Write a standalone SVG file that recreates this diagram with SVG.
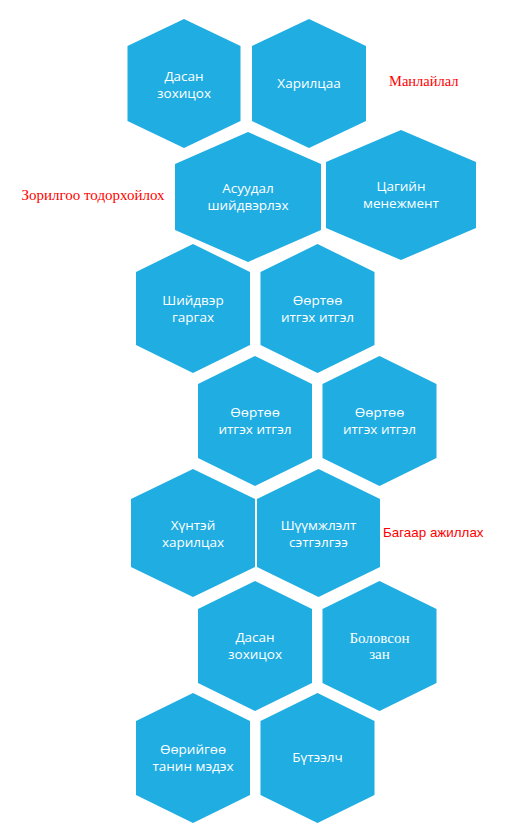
<svg xmlns="http://www.w3.org/2000/svg" width="526" height="837" viewBox="0 0 526 837">
<style>
.hex{fill:#1FADE2;}
.t{font-family:"Open Sans","Noto Sans",sans-serif;font-size:13.5px;fill:#FFFFFF;text-anchor:middle;}
.ts{font-family:"Liberation Serif","Times New Roman",serif;font-size:15px;fill:#FFFFFF;text-anchor:middle;}
.rs{font-family:"Liberation Serif","Times New Roman",serif;font-size:14.5px;fill:#FF0000;}
.ra{font-family:"Liberation Sans",Arial,sans-serif;font-size:13.4px;fill:#FF0000;}
</style>
<rect width="526" height="837" fill="#FFFFFF"/>
<g id="n1"><polygon class="hex" points="184,19 240.5,46 240.5,121 184,148 127.5,121 127.5,46"/><text class="t" x="184" y="80.5">Дасан</text><text class="t" x="184" y="97.5">зохицох</text></g>
<g id="n2"><polygon class="hex" points="309,19 366,46 366,121 309,148 252,121 252,46"/><text class="t" x="309" y="87.5">Харилцаа</text></g>
<g id="n3"><polygon class="hex" points="248,132 321,164 321,230 248,262 175,230 175,164"/><text class="t" x="248" y="193">Асуудал</text><text class="t" x="248" y="210">шийдвэрлэх</text></g>
<g id="n4"><polygon class="hex" points="401,130 476,162 476,228 401,260 326,228 326,162"/><text class="t" x="401" y="191">Цагийн</text><text class="t" x="401" y="208">менежмент</text></g>
<g id="n5"><polygon class="hex" points="193,244 250,272 250,345 193,373 136,345 136,272"/><text class="t" x="193" y="305">Шийдвэр</text><text class="t" x="193" y="322">гаргах</text></g>
<g id="n6"><polygon class="hex" points="317.5,244 374.5,272 374.5,345 317.5,373 260.5,345 260.5,272"/><text class="t" x="317.5" y="305">Өөртөө</text><text class="t" x="317.5" y="322">итгэх итгэл</text></g>
<g id="n7"><polygon class="hex" points="255,356 312,384 312,458 255,486 198,458 198,384"/><text class="t" x="255" y="417">Өөртөө</text><text class="t" x="255" y="434">итгэх итгэл</text></g>
<g id="n8"><polygon class="hex" points="379.5,356 436.5,384 436.5,458 379.5,486 322.5,458 322.5,384"/><text class="t" x="379.5" y="417">Өөртөө</text><text class="t" x="379.5" y="434">итгэх итгэл</text></g>
<g id="n9"><polygon class="hex" points="193,469 255,499 255,567 193,597 131,567 131,499"/><text class="t" x="193" y="529.5">Хүнтэй</text><text class="t" x="193" y="546.5">харилцах</text></g>
<g id="n10"><polygon class="hex" points="318.5,469 380,499 380,567 318.5,597 257,567 257,499"/><text class="t" x="318.5" y="529.5">Шүүмжлэлт</text><text class="t" x="318.5" y="546.5">сэтгэлгээ</text></g>
<g id="n11"><polygon class="hex" points="255,581 312,609 312,683 255,711 198,683 198,609"/><text class="t" x="255" y="642">Дасан</text><text class="t" x="255" y="659">зохицох</text></g>
<g id="n12"><polygon class="hex" points="379.5,581 436.5,609 436.5,683 379.5,711 322.5,683 322.5,609"/><text class="ts" x="379.5" y="642.5">Боловсон</text><text class="ts" x="379.5" y="658.5">зан</text></g>
<g id="n13"><polygon class="hex" points="193,693 250,721 250,795 193,823 136,795 136,721"/><text class="t" x="193" y="754">Өөрийгөө</text><text class="t" x="193" y="771">танин мэдэх</text></g>
<g id="n14"><polygon class="hex" points="317.5,693 374.5,721 374.5,795 317.5,823 260.5,795 260.5,721"/><text class="t" x="317.5" y="762">Бүтээлч</text></g>
<g id="labels">
<text class="rs" x="389" y="86">Манлайлал</text>
<text class="rs" x="21.5" y="200" textLength="143" lengthAdjust="spacingAndGlyphs">Зорилгоо тодорхойлох</text>
<text class="ra" x="383" y="537">Багаар ажиллах</text>
</g>
<g id="connectors"></g>
</svg>
